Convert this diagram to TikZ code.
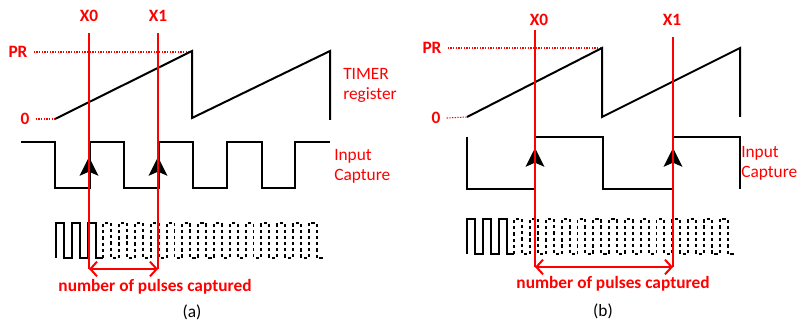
\documentclass[tikz,border=0pt]{standalone}
\usepackage{fontspec}
\setmainfont{Carlito}
\usepackage{xcolor}
\usetikzlibrary{arrows.meta}
\definecolor{clrR}{RGB}{255,0,0}
\newcommand{\lblfont}{\fontsize{13}{15}\selectfont}
\tikzset{
  wave/.style={line width=1.5pt,black,line join=miter},
  dashwave/.style={wave,line width=1.4pt,dash pattern=on 2.4pt off 2.2pt},
  level/.style={clrR,line width=0.8pt,dash pattern=on 1pt off 1pt},
  marker/.style={clrR,line width=1.5pt},
  count/.style={clrR,line width=1.5pt,
    {Straight Barb[length=5pt,width=11pt]}-{Straight Barb[length=5pt,width=11pt]}},
  edgemark/.style={-{Stealth[length=14pt,width=14pt,inset=3pt]},line width=1.8pt,black},
  tag/.style={font=\lblfont\bfseries,text=clrR,inner sep=0pt},
  note/.style={font=\lblfont,text=clrR,align=left,anchor=west,inner sep=0pt},
  caption/.style={font=\lblfont,inner sep=0pt}
}
\begin{document}
\begin{tikzpicture}[x=0.75pt,y=-0.75pt]
  \useasboundingbox (0,0) rectangle (798,327);
  \coordinate (aX0top) at (89,33);
  \coordinate (aX0bot) at (89,269);
  \coordinate (aX1top) at (158,33);
  \coordinate (aX1bot) at (158,269);
  \coordinate (bX0top) at (535,30);
  \coordinate (bX0bot) at (535,267);
  \coordinate (bX1top) at (673,37);
  \coordinate (bX1bot) at (673,267);
  \node[tag] (aX0) at (89,16) {X0};
  \node[tag] (aX1) at (158,16) {X1};
  \node[tag] (aPR) at (18,52) {PR};
  \node[tag] (aZero) at (25,119) {0};
  \node[note] (aTimer) at (343,85) {TIMER\\register};
  \node[note] (aInput) at (334,166) {Input\\Capture};
  \node[tag] (aCount) at (155,287) {number of pulses captured};
  \node[caption] (aCaption) at (192,312) {(a)};
  \node[tag] (bX0) at (539,20) {X0};
  \node[tag] (bX1) at (672,20) {X1};
  \node[tag] (bPR) at (432,48) {PR};
  \node[tag] (bZero) at (436,118) {0};
  \node[note] (bInput) at (741,163) {Input\\Capture};
  \node[tag] (bCount) at (613,284) {number of pulses captured};
  \node[caption] (bCaption) at (603,311) {(b)};
  \draw[level] (aPR.east) ++(6,0) -- (192,52);
  \draw[level] (aZero.east) ++(6,0) -- (55,119);
  \draw[wave] (55,119) -- (192,51) -- (192,118) -- (330,51) -- (330,120);
  \draw[wave] (21,142) -- (55,142) -- (55,188) -- (90,188) -- (90,142) -- (124,142)
    -- (124,188) -- (159,188) -- (159,142) -- (193,142) -- (193,188) -- (227,188)
    -- (227,142) -- (262,142) -- (262,188) -- (295,188) -- (295,142) -- (330,142);
  \draw[edgemark] (89,188) -- (89,157);
  \draw[edgemark] (158,188) -- (158,157);
  \draw[wave] (56,258) \foreach \k in {0,1,2}{ -- ++(0,-35) -- ++(7.9,0) -- ++(0,35) -- ++(7.9,0)};
  \draw[dashwave] (103.4,258) \foreach \k in {3,...,16}{ -- ++(0,-35) -- ++(7.9,0) -- ++(0,35) -- ++(7.9,0)};
  \draw[marker] (aX0top) -- (aX0bot);
  \draw[marker] (aX1top) -- (aX1bot);
  \draw[count] (aX0bot) -- (aX1bot);
  \draw[level] (bPR.east) ++(6,0) -- (602,48);
  \draw[level] (bZero.east) ++(6,0) -- (467,117);
  \draw[wave] (467,117) -- (602,48) -- (602,117) -- (740,48) -- (740,117);
  \draw[wave] (467,137) -- (467,189) -- (535,189) -- (535,137) -- (603,137) -- (603,189)
    -- (673,189) -- (673,137) -- (740,137) -- (740,189);
  \draw[edgemark] (535,189) -- (535,148);
  \draw[edgemark] (673,189) -- (673,148);
  \draw[wave] (467,254) \foreach \k in {0,1,2}{ -- ++(0,-35) -- ++(7.9,0) -- ++(0,35) -- ++(7.9,0)};
  \draw[dashwave] (514.3,254) \foreach \k in {3,...,16}{ -- ++(0,-35) -- ++(7.9,0) -- ++(0,35) -- ++(7.9,0)};
  \draw[marker] (bX0top) -- (bX0bot);
  \draw[marker] (bX1top) -- (bX1bot);
  \draw[count] (bX0bot) -- (bX1bot);
\end{tikzpicture}
\end{document}
